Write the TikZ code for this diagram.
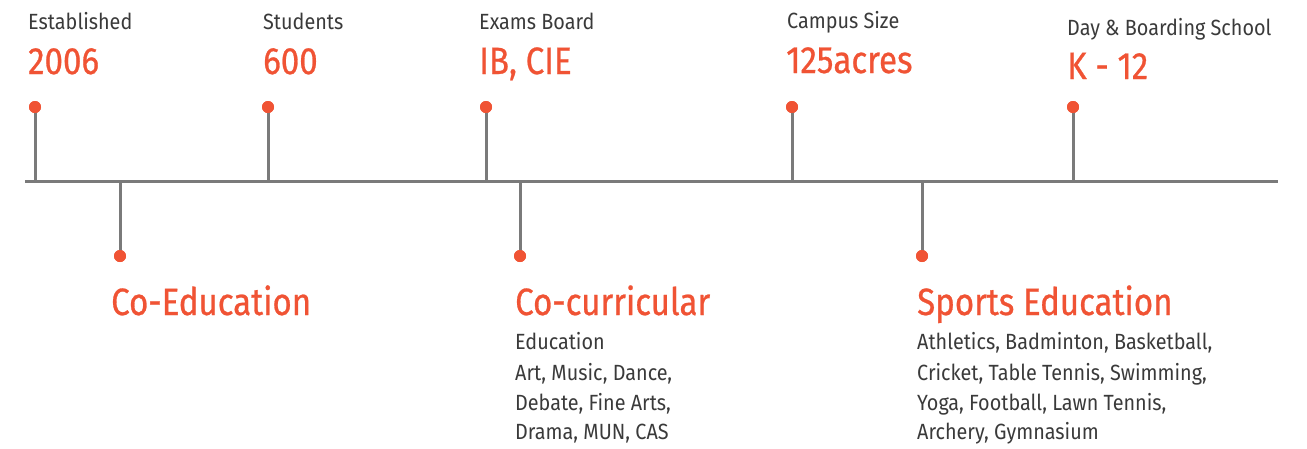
\documentclass[tikz,border=0pt]{standalone}
\usepackage{fontspec}
\setmainfont{Fira Sans}[FakeStretch=0.9]
\newfontfamily\medfont{Fira Sans}[FakeStretch=0.87,FakeBold=0.7]
\definecolor{accent}{RGB}{240,83,52}
\definecolor{axis}{RGB}{122,122,122}
\definecolor{ink}{RGB}{58,58,58}
\tikzset{
  dot/.style={circle,fill=accent,inner sep=0pt,minimum size=12pt},
  stem/.style={draw=axis,line width=3pt},
  lab/.style={anchor=base west,inner sep=0pt,text=ink,font=\fontsize{22}{22}\selectfont},
  val/.style={anchor=base west,inner sep=0pt,text=accent,font=\medfont\fontsize{38}{38}\selectfont},
  head/.style={anchor=base west,inner sep=0pt,text=accent,font=\medfont\fontsize{38}{38}\selectfont},
  body/.style={anchor=base west,inner sep=0pt,text=ink,font=\fontsize{22}{30}\selectfont},
}
\begin{document}
\begin{tikzpicture}[x=1pt,y=-1pt]
\useasboundingbox (0,0) rectangle (1307,448);
% main axis
\coordinate (L) at (25,181);
\coordinate (R) at (1278,181);
\draw[stem] (L) -- (R);
% upper stems
\foreach \n/\x in {a/35,b/268,c/486,d/792,e/1073}{
  \coordinate (\n0) at (\x,181);
  \node[dot] (\n1) at (\x,107) {};
  \draw[stem] (\n0) -- (\n1.center);
  \fill[accent] (\n1) circle (6pt);
}
% lower stems
\foreach \n/\x in {f/120,g/520,h/922}{
  \coordinate (\n0) at (\x,181);
  \node[dot] (\n1) at (\x,256) {};
  \draw[stem] (\n0) -- (\n1.center);
  \fill[accent] (\n1) circle (6pt);
}
% top labels
\node[lab] (t1) at (28,29) {Established};
\node[val] (v1) at (28,74) {2006};
\node[lab] (t2) at (263,29) {Students};
\node[val] (v2) at (263,74) {600};
\node[lab] (t3) at (479,29) {Exams Board};
\node[val] (v3) at (479,74) {IB, CIE};
\node[lab] (t4) at (787,28) {Campus Size};
\node[val] (v4) at (786,73) {125acres};
\node[lab] (t5) at (1067,35) {Day \& Boarding School};
\node[val] (v5) at (1067,79) {K - 12};
% bottom labels
\node[head] (h1) at (111,315) {Co-Education};
\node[head] (h2) at (515,315) {Co-curricular};
\node[body] (b21) at (515,349) {Education};
\node[body] (b22) at (515,380) {Art, Music, Dance,};
\node[body] (b23) at (515,410) {Debate, Fine Arts,};
\node[body] (b24) at (515,439) {Drama, MUN, CAS};
\node[head] (h3) at (917,315) {Sports Education};
\node[body] (b31) at (917,349) {Athletics, Badminton, Basketball,};
\node[body] (b32) at (917,380) {Cricket, Table Tennis, Swimming,};
\node[body] (b33) at (917,410) {Yoga, Football, Lawn Tennis,};
\node[body] (b34) at (917,439) {Archery, Gymnasium};
\end{tikzpicture}
\end{document}
